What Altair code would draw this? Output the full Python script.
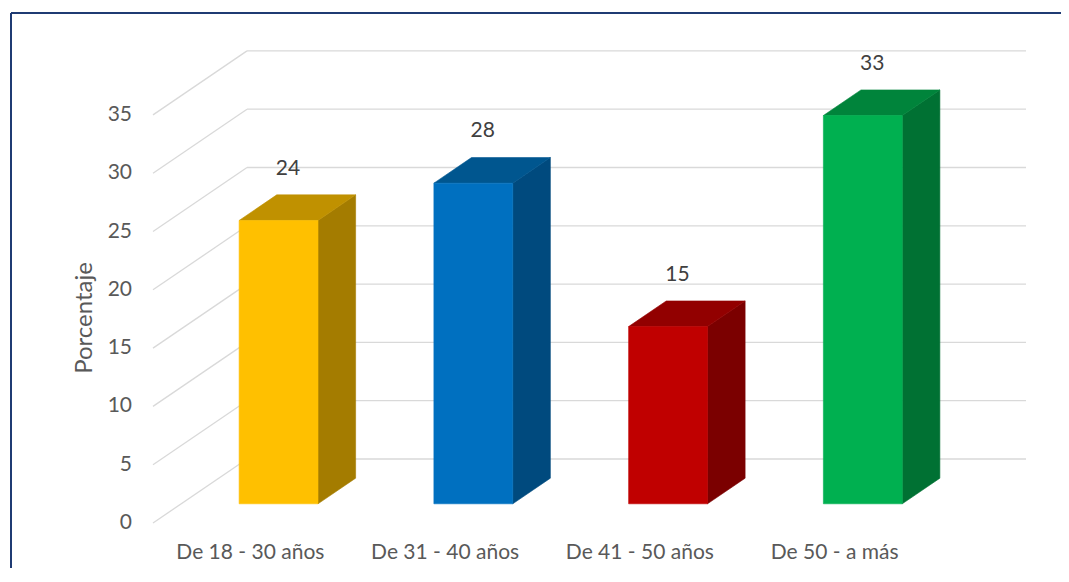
import altair as alt
import pandas as pd

# ---- data ----
categories = ["De 18 - 30 años", "De 31 - 40 años", "De 41 - 50 años", "De 50 - a más"]
values = [24.3, 27.5, 15.2, 33.3]
front_colors = ["#FFC000", "#0070C0", "#C00000", "#00B050"]
top_colors = ["#C09100", "#00568F", "#920000", "#00843B"]
side_colors = ["#A47C00", "#004A7E", "#7B0000", "#007133"]
y_ticks = [0, 5, 10, 15, 20, 25, 30, 35]
y_title = "Porcentaje"

# ---- layout (pixels) ----
W, H = 1050, 555
PXU, PXV = 194.75, 11.66      # pixels per category slot / per percentage unit
X0, Y0 = 142, 510             # position of the front-left origin inside the view
DX, DY = 94 / PXU, 64 / PXV   # depth of the 3-D floor in data units
F0, F1 = 0.3, 0.7             # bar depth span (fraction of floor depth)
HALF = 0.2025                 # half bar width (fraction of a slot)
FONT = "Lato"
FS = 21

xs = alt.Scale(domain=[-X0 / PXU, (W - X0) / PXU], nice=False, zero=False)
ys = alt.Scale(domain=[-(H - Y0) / PXV, Y0 / PXV], nice=False, zero=False)
n = len(categories)

grid = pd.DataFrame(
    [{"x": 0, "y": k, "x2": DX, "y2": k + DY} for k in y_ticks]
    + [{"x": DX, "y": k + DY, "x2": n + DX, "y2": k + DY} for k in y_ticks]
)

front_rows, side_rows, top_rows, lab_rows, cat_rows = [], [], [], [], []
for i, (c, v) in enumerate(zip(categories, values)):
    cx = i + 0.5
    front_rows.append({"cat": c, "xl": cx - HALF + F0 * DX, "xr": cx + HALF + F0 * DX,
                       "y0": F0 * DY, "y1": v + F0 * DY, "col": front_colors[i]})
    for f in (F0, F1):
        side_rows.append({"cat": c, "x": cx + HALF + f * DX, "y": f * DY,
                          "y2": v + f * DY, "col": side_colors[i]})
        top_rows.append({"cat": c, "y": v + f * DY, "x": cx - HALF + f * DX,
                         "x2": cx + HALF + f * DX, "col": top_colors[i]})
    lab_rows.append({"x": cx + 0.4 * DX, "y": v + F1 * DY + 2.26, "v": v})
    cat_rows.append({"x": cx, "y": -30 / PXV, "cat": c})

front = pd.DataFrame(front_rows)
side = pd.DataFrame(side_rows)
top = pd.DataFrame(top_rows)
labs = pd.DataFrame(lab_rows)
cats = pd.DataFrame(cat_rows)
ytick_df = pd.DataFrame({"x": [0] * len(y_ticks), "y": y_ticks})

grid_layer = alt.Chart(grid).mark_rule(color="#D9D9D9", strokeWidth=1.3).encode(
    x=alt.X("x:Q", scale=xs, axis=None), x2="x2:Q",
    y=alt.Y("y:Q", scale=ys, axis=None), y2="y2:Q",
)

side_layer = alt.Chart(side).mark_area(orient="vertical", strokeWidth=0.6,
                                       opacity=1, fillOpacity=1).encode(
    x=alt.X("x:Q", scale=xs, axis=None),
    y=alt.Y("y:Q", scale=ys, axis=None), y2="y2:Q",
    fill=alt.Fill("col:N", scale=None),
    stroke=alt.Stroke("col:N", scale=None),
    detail="cat:N",
)

top_layer = alt.Chart(top).mark_area(orient="horizontal", strokeWidth=0.6,
                                     opacity=1, fillOpacity=1).encode(
    y=alt.Y("y:Q", scale=ys, axis=None),
    x=alt.X("x:Q", scale=xs, axis=None), x2="x2:Q",
    fill=alt.Fill("col:N", scale=None),
    stroke=alt.Stroke("col:N", scale=None),
    detail="cat:N",
)

front_layer = alt.Chart(front).mark_rect(strokeWidth=0.6, opacity=1).encode(
    x=alt.X("xl:Q", scale=xs, axis=None), x2="xr:Q",
    y=alt.Y("y0:Q", scale=ys, axis=None), y2="y1:Q",
    fill=alt.Fill("col:N", scale=None),
    stroke=alt.Stroke("col:N", scale=None),
)

value_labels = alt.Chart(labs).mark_text(font=FONT, fontSize=FS, color="#404040",
                                         baseline="middle", align="center").encode(
    x=alt.X("x:Q", scale=xs, axis=None),
    y=alt.Y("y:Q", scale=ys, axis=None),
    text=alt.Text("v:Q", format=".0f"),
)

ytick_labels = alt.Chart(ytick_df).mark_text(font=FONT, fontSize=FS, color="#595959",
                                             align="right", baseline="middle", dx=-21).encode(
    x=alt.X("x:Q", scale=xs, axis=None),
    y=alt.Y("y:Q", scale=ys, axis=None),
    text=alt.Text("y:Q"),
)

cat_labels = alt.Chart(cats).mark_text(font=FONT, fontSize=FS, color="#595959",
                                       align="center", baseline="middle").encode(
    x=alt.X("x:Q", scale=xs, axis=None),
    y=alt.Y("y:Q", scale=ys, axis=None),
    text="cat:N",
)

title_layer = alt.Chart(pd.DataFrame({"t": [y_title]})).mark_text(
    font=FONT, fontSize=24, color="#595959", angle=270, align="center", baseline="middle"
).encode(x=alt.value(74), y=alt.value(305), text="t:N")

one = pd.DataFrame({"a": [0]})
border_top = alt.Chart(one).mark_rule(color="#1F3B73", strokeWidth=2).encode(
    x=alt.value(0), x2=alt.value(W), y=alt.value(0))
border_left = alt.Chart(one).mark_rule(color="#1F3B73", strokeWidth=2).encode(
    x=alt.value(0), y=alt.value(0), y2=alt.value(H))

chart = alt.layer(
    grid_layer, side_layer, top_layer, front_layer,
    value_labels, ytick_labels, cat_labels, title_layer,
    border_top, border_left,
).properties(
    width=W, height=H,
    padding={"left": 3, "top": 5, "right": 0, "bottom": 0},
    autosize=alt.AutoSizeParams(type="none"),
).configure_view(stroke=None).configure(background="white")

chart.save("out.html", embed_options={"renderer": "svg", "actions": False})
